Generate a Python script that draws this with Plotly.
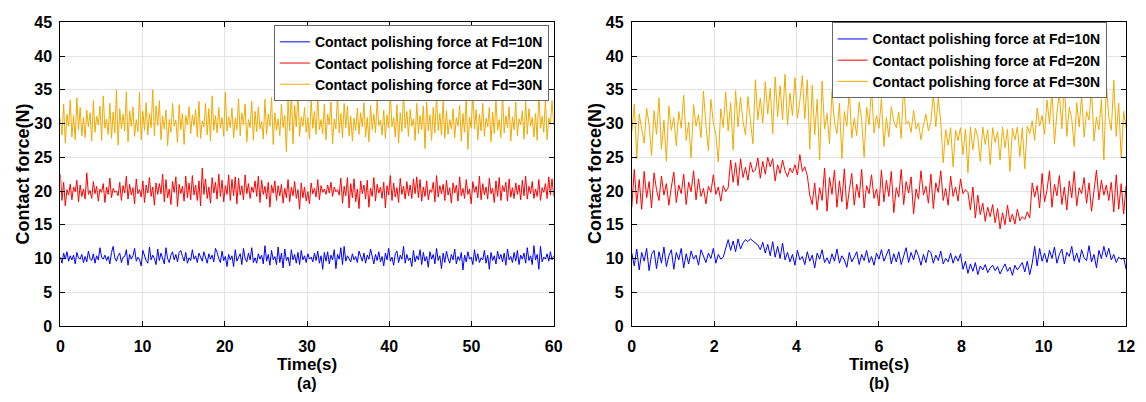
import numpy as np
import plotly.graph_objects as go

# ---------------- Data: panel (a), 0-60 s ----------------
a_f10 = [10.2, 9.3, 10.8, 9.9, 11.0, 9.6, 10.4, 9.8, 10.5, 9.2, 10.9, 10.1, 9.9, 10.6, 9.4, 10.3, 9.5, 11.1, 10.0, 9.7,
         10.7, 9.3, 10.4, 9.8, 11.6, 10.2, 9.9, 10.5, 9.7, 10.3, 9.2, 10.9, 11.8, 10.1, 9.6, 10.4, 10.8, 9.4, 10.2, 10.3,
         11.3, 9.0, 10.6, 9.9, 10.4, 11.5, 9.6, 10.2, 9.8, 8.9, 11.2, 10.4, 9.7, 9.3, 11.7, 9.8, 10.5, 10.0, 9.1, 11.4,
         9.7, 10.8, 9.9, 9.2, 11.6, 10.0, 9.4, 10.5, 11.0, 9.8, 10.6, 9.5, 10.9, 11.2, 10.3, 9.6, 10.9, 9.3, 10.1, 9.7,
         11.3, 9.9, 10.4, 9.4, 10.8, 10.1, 9.6, 11.0, 10.2, 9.3, 10.7, 9.9, 10.5, 9.5, 11.5, 10.9, 10.0, 9.4, 11.1, 9.7,
         10.3, 8.8, 10.6, 9.8, 10.4, 8.8, 11.3, 9.6, 10.2, 10.7, 9.1, 11.5, 10.0, 9.5, 10.8, 9.8, 11.6, 9.4, 10.1, 9.3,
         10.7, 9.9, 10.5, 9.2, 11.9, 9.6, 10.6, 9.0, 11.2, 9.8, 10.3, 9.1, 11.7, 9.4, 10.8, 8.6, 11.4, 9.7, 10.2, 8.9,
         11.3, 9.8, 10.6, 9.3, 10.9, 9.1, 11.2, 9.8, 10.4, 9.4, 10.7, 9.9, 10.2, 9.5, 10.8, 9.7, 11.1, 9.3, 10.4, 8.4,
         10.9, 9.6, 11.0, 9.2, 10.5, 9.8, 11.3, 8.5, 10.6, 9.9, 11.6, 9.1, 11.8, 9.6, 10.4, 10.0, 9.5, 10.7, 9.8, 10.3,
         9.4, 11.1, 10.2, 9.6, 10.8, 9.3, 10.5, 9.9, 11.4, 10.1, 9.2, 10.6, 9.7, 11.0, 9.5, 10.3, 8.9, 10.8, 9.8, 11.5,
         9.6, 10.2, 9.0, 10.7, 11.1, 9.4, 10.5, 9.9, 11.8, 9.3, 10.6, 9.7, 10.1, 8.8, 11.2, 9.5, 10.4, 9.8, 11.3, 9.1,
         10.9, 9.6, 10.3, 8.7, 11.0, 9.9, 10.6, 9.2, 11.5, 9.7, 10.4, 8.5, 10.8, 9.4, 11.1, 10.0, 9.3, 10.6, 9.8, 11.4,
         9.2, 10.3, 9.7, 10.9, 8.3, 10.5, 9.5, 11.0, 9.9, 10.2, 9.1, 11.3, 9.6, 10.7, 9.4, 10.1, 9.8, 11.2, 9.3, 10.5,
         8.4, 10.9, 9.7, 10.4, 9.2, 11.1, 9.9, 10.6, 9.5, 10.8, 9.0, 11.4, 9.8, 10.3, 9.4, 10.9, 9.6, 11.2, 9.1, 10.5,
         9.9, 10.8, 9.3, 11.6, 9.7, 10.4, 9.1, 11.9, 9.8, 10.6, 8.4, 11.8, 9.5, 10.2, 9.9, 10.7, 9.6, 11.0, 9.8, 10.4]
a_f20 = [22.5, 18.6, 21.3, 17.8, 20.2, 19.4, 21.0, 18.7, 20.6, 19.9, 21.6, 18.4, 20.9, 19.2, 20.3, 18.8, 22.7, 19.5, 20.1, 18.9,
         21.4, 19.6, 20.7, 18.5, 20.3, 19.8, 21.1, 18.3, 20.6, 19.5, 21.9, 19.0, 20.4, 19.8, 20.0, 19.3, 21.3, 18.6, 20.8, 19.7,
         22.2, 18.8, 21.0, 19.4, 20.5, 18.1, 21.8, 19.6, 20.2, 19.1, 21.5, 18.3, 20.9, 19.7, 22.0, 19.2, 20.6, 17.9, 21.2, 19.5,
         21.1, 19.6, 22.5, 18.4, 21.7, 19.0, 20.3, 18.0, 21.4, 19.8, 22.1, 17.7, 21.0, 19.6, 20.7, 18.5, 22.2, 19.0, 21.2, 18.7,
         22.3, 19.4, 20.9, 18.6, 21.5, 17.8, 23.4, 19.5, 21.8, 18.9, 20.6, 18.2, 22.0, 19.7, 21.3, 18.8, 22.5, 19.2, 21.6, 18.4,
         20.8, 19.5, 22.4, 18.6, 21.7, 19.3, 22.1, 18.1, 21.9, 19.4, 20.8, 18.7, 22.4, 19.6, 21.1, 18.9, 20.6, 19.8, 21.5, 19.2,
         22.2, 18.3, 21.6, 19.5, 20.7, 18.8, 21.3, 17.6, 20.9, 19.7, 21.5, 18.6, 20.8, 19.3, 21.0, 18.2, 20.4, 19.0, 21.7, 18.4,
         20.6, 19.3, 21.4, 18.9, 20.2, 17.3, 21.2, 19.0, 20.6, 18.5, 19.9, 18.1, 21.2, 19.6, 20.4, 19.1, 21.7, 18.7, 20.8, 19.8,
         20.3, 19.5, 20.9, 19.7, 21.3, 19.2, 20.6, 19.9, 20.2, 19.4, 21.9, 18.2, 20.7, 19.3, 22.0, 17.5, 21.1, 19.0, 21.8, 18.4,
         20.3, 17.4, 21.5, 19.6, 20.9, 18.8, 21.6, 17.6, 20.4, 19.2, 22.0, 18.5, 21.0, 19.7, 20.6, 18.9, 21.3, 17.5, 20.8, 19.4,
         22.3, 18.6, 21.2, 19.1, 20.5, 18.3, 21.9, 19.5, 20.7, 18.8, 21.4, 19.3, 20.9, 18.9, 21.8, 19.6, 22.1, 19.0, 21.7, 18.5,
         20.6, 19.2, 21.5, 18.7, 20.2, 19.8, 21.3, 18.4, 22.3, 19.1, 20.8, 19.6, 21.0, 18.6, 21.6, 19.4, 20.5, 18.2, 21.2, 19.7,
         20.9, 18.5, 22.1, 19.3, 20.4, 18.9, 21.7, 19.5, 20.3, 18.1, 21.4, 19.8, 20.7, 19.0, 22.2, 18.7, 21.1, 19.4, 20.6, 18.8,
         21.9, 19.6, 20.4, 18.3, 21.5, 19.2, 22.0, 18.6, 20.8, 19.9, 21.3, 18.5, 21.8, 19.1, 20.5, 18.9, 21.2, 19.5, 20.9, 18.7,
         21.6, 19.3, 22.2, 18.8, 20.7, 19.6, 21.4, 18.9, 20.3, 19.2, 21.7, 18.6, 20.5, 19.8, 21.1, 18.9, 22.1, 19.4, 21.8, 19.2]
a_f30 = [30.8, 28.3, 32.9, 27.1, 31.4, 29.6, 33.5, 28.0, 31.2, 27.6, 33.8, 29.1, 32.4, 28.2, 30.9, 27.9, 32.0, 29.5, 31.6, 27.4,
         33.4, 28.7, 31.1, 29.8, 32.6, 27.5, 34.1, 29.3, 30.7, 28.4, 33.0, 27.8, 31.7, 28.6, 35.0, 26.8, 32.2, 29.2, 31.4, 28.9,
         34.7, 27.3, 31.9, 29.6, 32.5, 28.1, 30.6, 28.8, 34.6, 27.6, 31.8, 29.0, 33.1, 28.3, 31.5, 29.4, 35.0, 28.2, 32.6, 29.7,
         33.4, 27.6, 31.1, 29.2, 32.0, 26.7, 30.6, 28.7, 33.0, 29.6, 30.5, 27.2, 32.8, 29.1, 31.5, 26.9, 31.2, 29.8, 32.5, 28.5,
         31.3, 29.7, 32.1, 28.0, 33.3, 27.8, 30.4, 29.5, 33.0, 28.3, 32.2, 27.4, 34.1, 29.0, 31.2, 28.6, 32.4, 29.3, 30.9, 28.1,
         34.6, 28.9, 31.0, 29.4, 32.3, 27.9, 30.8, 29.1, 33.7, 28.2, 31.6, 29.8, 32.9, 27.3, 30.6, 29.4, 33.3, 27.5, 31.8, 28.8,
         32.5, 29.2, 30.3, 27.7, 33.6, 28.4, 31.4, 29.6, 33.9, 26.9, 31.6, 29.0, 30.7, 28.2, 32.9, 29.4, 31.2, 25.8, 33.4, 28.9,
         35.2, 27.0, 32.7, 29.5, 34.4, 28.1, 31.0, 29.6, 32.4, 28.7, 30.9, 27.7, 33.6, 29.3, 31.8, 28.4, 34.1, 29.1, 30.6, 28.5,
         32.9, 27.6, 31.4, 29.8, 33.2, 27.0, 30.7, 29.2, 34.3, 28.6, 31.5, 27.9, 33.0, 29.4, 32.6, 28.2, 31.1, 27.4, 30.8, 29.0,
         32.3, 28.4, 31.6, 29.5, 33.1, 28.0, 30.9, 27.3, 32.7, 29.1, 31.4, 28.6, 33.5, 29.7, 30.5, 28.3, 32.0, 27.8, 31.3, 29.4,
         34.4, 29.5, 30.9, 28.0, 32.8, 27.1, 31.6, 28.8, 34.5, 29.3, 31.8, 28.1, 32.1, 29.6, 30.7, 27.5, 33.0, 28.5, 31.2, 29.1,
         32.6, 26.3, 33.2, 28.9, 31.3, 27.5, 32.4, 28.6, 34.0, 29.0, 31.5, 28.3, 33.3, 27.8, 31.9, 28.4, 30.6, 29.2, 32.2, 27.9,
         30.9, 29.6, 32.7, 27.4, 31.5, 28.7, 33.8, 26.2, 31.0, 29.3, 34.5, 29.2, 32.1, 27.6, 31.4, 28.9, 33.0, 28.1, 30.8, 29.5,
         32.4, 27.3, 31.7, 28.5, 33.6, 29.0, 30.6, 27.9, 34.6, 28.6, 31.2, 29.4, 32.5, 27.4, 31.0, 29.1, 33.2, 28.2, 30.7, 29.8,
         31.9, 27.7, 33.4, 28.4, 32.2, 29.6, 30.9, 28.0, 31.5, 27.5, 34.7, 29.3, 31.1, 28.7, 33.6, 27.6, 30.8, 29.9, 33.4, 29.8]

# ---------------- Data: panel (b), 0-12 s ----------------
b_f10 = [10.8, 8.9, 11.4, 8.3, 10.9, 9.6, 11.5, 8.2, 10.6, 11.2, 8.5, 11.0, 9.3, 11.7, 8.8, 10.4, 11.3, 8.4, 10.9, 9.8,
         11.5, 8.6, 10.7, 9.2, 11.1, 9.9, 10.5, 9.0, 11.3, 10.2, 9.4, 10.8, 10.0, 11.5, 9.3, 10.6, 9.9,
         10.2, 11.6, 12.8, 11.2, 12.6, 11.0, 12.9, 11.4, 12.3, 12.8, 12.5, 12.9, 12.6, 12.2,
         12.0, 11.3, 12.4, 10.8, 12.1, 10.4, 12.5, 10.2, 11.8, 10.0, 12.3, 9.8,
         10.9, 9.5, 10.6, 9.0, 11.2, 9.8, 10.3, 9.1, 11.0, 9.6, 10.5, 8.6, 10.8, 9.9, 11.3, 9.4, 10.1, 9.2, 10.7, 9.6,
         11.4, 9.3, 10.4, 9.8, 8.7, 10.9, 9.5, 10.2, 11.0, 9.1, 10.6, 9.7, 11.2, 9.4, 10.3, 9.0, 10.8, 9.9, 11.3, 9.6,
         10.5, 11.4, 9.2, 10.7, 9.5, 11.0, 9.1, 10.2, 11.6, 9.4, 10.9, 9.8, 11.3, 10.4, 9.0, 10.6, 9.4, 11.2, 10.9, 9.3,
         10.5, 9.7, 11.1, 9.2, 10.0, 9.5, 10.8, 9.3, 10.4, 9.6, 10.7,
         8.4, 9.6, 7.8, 9.2, 8.1, 9.4, 7.6, 8.9, 8.3, 9.1, 7.9, 8.6, 9.0, 8.2, 8.8, 7.7, 8.5, 9.2, 8.1, 8.7,
         7.5, 9.0, 8.3, 8.8, 9.4, 8.0, 9.6, 7.6, 9.3,
         11.8, 8.9, 11.5, 9.6, 10.8, 9.4, 11.2, 10.0, 11.7, 9.3, 10.6, 11.4, 9.2, 10.9, 10.3, 11.8, 9.6, 10.8, 9.4, 11.3,
         10.1, 9.7, 11.9, 9.5, 10.6, 8.6, 11.2, 10.0, 11.8, 10.2, 11.5, 9.8, 10.6, 9.4, 10.2, 9.9, 10.1, 8.4]
b_f20 = [17.6, 23.2, 18.1, 21.7, 17.3, 22.9, 19.0, 21.4, 17.5, 22.7, 20.2, 18.6, 22.2, 19.4, 21.1, 17.9, 20.6, 22.8, 18.3, 20.9,
         19.6, 22.5, 18.0, 21.3, 19.9, 23.0, 18.7, 21.8, 19.2, 20.4, 18.1, 20.7, 19.8, 22.4, 19.5, 20.6, 18.5, 20.8, 19.9,
         20.5, 24.6, 21.3, 24.2, 20.8, 24.8, 22.0, 23.5, 21.6, 24.3, 22.8, 23.1, 24.9, 21.9, 24.4, 22.5, 25.0, 23.6, 24.8, 21.5,
         23.9, 22.6, 24.6, 23.0, 22.1, 23.4, 22.7, 23.9, 22.4, 25.4, 22.9, 23.6, 22.3,
         19.4, 18.0, 21.2, 17.2, 20.5, 18.6, 23.4, 17.0, 22.0, 19.5, 23.1, 17.6, 21.5, 18.4, 23.3, 17.3, 20.1, 22.6, 17.9, 21.0,
         19.0, 23.2, 17.5, 20.8, 19.6, 22.4, 18.9, 20.3, 17.8, 23.1, 18.4, 21.6, 19.2, 22.9, 16.8, 20.5, 19.1, 23.2, 18.0, 21.4,
         19.7, 22.1, 16.6, 20.3, 18.8, 23.0, 19.4, 20.7, 18.2, 22.5, 17.4, 21.2, 19.8, 23.0, 18.6, 20.4, 17.9, 22.2, 19.2, 20.6,
         18.5, 21.8, 19.6, 20.2, 19.8,
         17.2, 20.6, 16.0, 19.4, 16.5, 18.2, 15.5, 17.6, 16.2, 18.0, 15.3, 17.4, 14.4, 16.8, 15.0, 17.9, 15.4, 16.6, 15.1, 17.3,
         15.6, 16.2, 15.8, 16.9, 16.0,
         21.2, 19.1, 20.8, 17.5, 22.6, 18.4, 20.2, 23.0, 17.6, 21.0, 19.3, 22.3, 18.0, 20.6, 17.2, 21.5, 19.0, 22.9, 17.8, 20.5,
         19.6, 22.0, 18.2, 21.2, 17.0, 20.4, 23.1, 18.7, 21.6, 19.4, 20.9, 18.6, 21.3, 16.9, 22.4, 17.3, 21.1, 16.6, 20.8]
b_f30 = [28.7, 32.9, 24.8, 31.4, 29.2, 27.1, 32.3, 29.8, 25.3, 31.9, 28.4, 33.8, 26.2, 30.5, 24.4, 32.6, 29.0, 30.9, 26.7, 31.8,
         29.3, 34.2, 27.5, 30.2, 24.9, 32.8, 29.6, 31.3, 27.9, 34.8, 29.7, 26.0, 33.6, 30.1, 28.4, 24.3, 32.2,
         29.4, 34.7, 28.9, 33.1, 26.1, 34.9, 29.5, 33.9, 30.3, 28.3, 34.0, 30.4, 27.0, 36.5, 30.6, 33.8, 30.1, 36.2, 31.4, 35.2,
         28.5, 36.9, 31.0, 35.6, 30.5, 37.3, 29.8, 34.5, 31.2, 36.8, 30.8, 33.4, 37.1, 30.7, 36.5,
         26.2, 35.7, 28.3, 33.6, 24.6, 36.3, 29.2, 31.5, 27.0, 34.8, 30.2, 28.5, 33.0, 24.8, 31.8, 29.6, 34.9, 27.9, 30.8, 28.2,
         33.2, 30.5, 25.0, 32.4, 29.8, 35.3, 28.6, 31.2, 29.3, 33.7, 26.6, 30.9, 28.0, 32.5, 30.3, 29.4, 31.7, 27.8, 36.2, 29.9,
         30.4, 28.7, 32.0, 29.2, 30.1, 27.6, 29.8, 31.4, 28.9, 30.3, 34.3, 29.5, 33.8,
         30.2, 24.2, 29.1, 26.8, 29.4, 23.6, 29.0, 27.5, 29.4, 25.4, 29.2, 22.7, 29.5, 26.1, 29.3, 28.0, 24.4, 29.5, 26.9, 29.1,
         23.9, 29.4, 27.2, 28.8, 24.6, 29.5, 26.4, 29.2, 22.9, 29.3, 27.6, 29.5, 25.1, 29.4, 23.3, 29.6, 28.5,
         30.4, 27.5, 32.3, 29.6, 31.2, 28.4, 33.5, 30.0, 35.0, 27.0, 31.6, 34.6, 29.2, 36.5, 28.1, 32.4, 30.7, 26.6, 33.1, 29.5,
         34.2, 28.0, 31.8, 30.5, 35.2, 27.4, 31.0, 29.1, 33.6, 24.6, 35.8, 30.9, 29.0, 36.4, 28.1, 33.0, 24.9, 31.8, 29.3]

series_names = ["Contact polishing force at Fd=10N",
                "Contact polishing force at Fd=20N",
                "Contact polishing force at Fd=30N"]
series_colors = ["#0000FF", "#FF0000", "#F2A900"]
x_ticks_a = [0, 10, 20, 30, 40, 50, 60]
x_ticks_b = [0, 2, 4, 6, 8, 10, 12]
y_ticks = [0, 5, 10, 15, 20, 25, 30, 35, 40, 45]
t_end_a, t_end_b = 60, 12

W, H = 1146, 402
FONT = "Liberation Sans, Arial, Helvetica, sans-serif"

fig = go.Figure()

for ys, name, col in zip([a_f10, a_f20, a_f30], series_names, series_colors):
    t = np.linspace(0, t_end_a, len(ys))
    fig.add_trace(go.Scatter(x=t, y=ys, mode="lines", name=name,
                             line=dict(color=col, width=1), xaxis="x", yaxis="y",
                             legend="legend"))
for ys, name, col in zip([b_f10, b_f20, b_f30], series_names, series_colors):
    t = np.linspace(0, t_end_b, len(ys))
    fig.add_trace(go.Scatter(x=t, y=ys, mode="lines", name=name,
                             line=dict(color=col, width=1), xaxis="x2", yaxis="y2",
                             legend="legend2"))

def px_x(p):
    return p / W

def px_y(p):
    return 1 - p / H

axis_common = dict(showline=True, linecolor="black", linewidth=1, mirror="ticks",
                   ticks="inside", ticklen=5, tickwidth=1, tickcolor="black",
                   showgrid=True, gridcolor="#E3E3E3", gridwidth=1, zeroline=False,
                   tickfont=dict(family=FONT, size=16, color="black", weight="bold"))

ydom = [px_y(332), px_y(15)]
legend_font = dict(family=FONT, size=14, color="black", weight="bold")
fig.update_layout(
    width=W, height=H, margin=dict(l=0, r=0, t=0, b=0),
    paper_bgcolor="white", plot_bgcolor="white",
    xaxis=dict(domain=[px_x(57), px_x(556)], range=[0, t_end_a], tickvals=x_ticks_a,
               anchor="y", ticklabelstandoff=6, **axis_common),
    yaxis=dict(domain=ydom, range=[0, 45], tickvals=y_ticks, anchor="x",
               ticklabelstandoff=4, **axis_common),
    xaxis2=dict(domain=[px_x(635), px_x(1135)], range=[0, t_end_b], tickvals=x_ticks_b,
                anchor="y2", ticklabelstandoff=6, **axis_common),
    yaxis2=dict(domain=ydom, range=[0, 45], tickvals=y_ticks, anchor="x2",
                ticklabelstandoff=4, **axis_common),
    legend=dict(x=px_x(273), y=px_y(18), xanchor="left", yanchor="top",
                bgcolor="white", bordercolor="#666666", borderwidth=1,
                font=legend_font, tracegroupgap=0, itemwidth=30),
    legend2=dict(x=px_x(837), y=px_y(15), xanchor="left", yanchor="top",
                 bgcolor="white", bordercolor="#666666", borderwidth=1,
                 font=legend_font, tracegroupgap=0, itemwidth=30),
    showlegend=True,
)

for xc, label in [(306, "(a)"), (885, "(b)")]:
    fig.add_annotation(text="Time(s)", xref="paper", yref="paper",
                       x=px_x(xc), y=px_y(372), showarrow=False, borderpad=0,
                       xanchor="center", yanchor="middle",
                       font=dict(family=FONT, size=17, color="black", weight="bold"))
    fig.add_annotation(text=label, xref="paper", yref="paper",
                       x=px_x(xc), y=px_y(392), showarrow=False, borderpad=0,
                       xanchor="center", yanchor="middle",
                       font=dict(family=FONT, size=16, color="black", weight="bold"))
for xc in [19, 597]:
    fig.add_annotation(text="Contact force(N)", xref="paper", yref="paper",
                       x=px_x(xc), y=px_y(173), showarrow=False, textangle=-90,
                       xanchor="center", yanchor="middle",
                       font=dict(family=FONT, size=18, color="black", weight="bold"))

fig.write_html("out.html")
